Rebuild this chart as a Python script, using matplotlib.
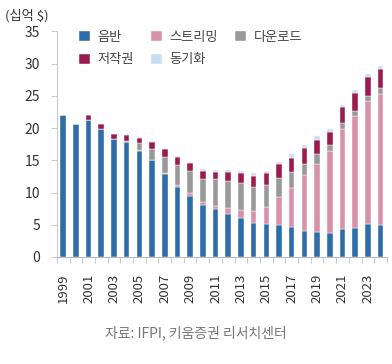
import matplotlib.pyplot as plt
import numpy as np

plt.rcParams['font.family'] = ['Noto Sans CJK KR', 'DejaVu Sans']

# 연도별 음악 매출 (십억 $)
years = list(range(1999, 2025))
physical = [22.0, 20.7, 21.3, 19.9, 18.3, 17.8, 16.5, 15.0, 12.9, 10.8, 9.4, 8.1, 7.4,
            6.65, 6.0, 5.3, 5.1, 4.9, 4.6, 4.1, 3.8, 3.65, 4.3, 4.5, 5.1, 4.9]
streaming = [0, 0, 0, 0, 0, 0.05, 0.15, 0.1, 0.2, 0.3, 0.5, 0.4, 0.5,
             0.95, 1.3, 1.8, 2.65, 4.35, 6.15, 8.6, 10.65, 12.75, 15.6, 17.35, 19.1, 20.4]
download = [0, 0, 0, 0, 0, 0.2, 1.0, 1.7, 2.4, 3.2, 3.4, 3.55, 4.15,
            4.15, 4.1, 3.8, 3.45, 2.95, 2.5, 1.7, 1.5, 0.95, 0.9, 0.85, 0.75, 0.85]
rights = [0, 0, 0.7, 0.7, 0.7, 0.9, 0.8, 1.1, 1.2, 1.2, 1.3, 1.35, 1.2,
          1.5, 1.7, 1.65, 1.9, 2.2, 2.15, 2.5, 2.25, 2.1, 2.4, 2.7, 2.9, 3.05]
sync = [0, 0, 0, 0, 0.05, 0.1, 0.1, 0.1, 0.1, 0.1, 0.1, 0.3, 0.3,
        0.3, 0.3, 0.4, 0.3, 0.3, 0.5, 0.45, 0.5, 0.35, 0.4, 0.5, 0.55, 0.4]

series = [
    ('음반', physical, '#2e6da8'),
    ('스트리밍', streaming, '#d892a8'),
    ('다운로드', download, '#999999'),
    ('저작권', rights, '#9b1b4f'),
    ('동기화', sync, '#c9ddf2'),
]

fig = plt.figure(figsize=(3.92, 3.64), dpi=100)
ax = fig.add_axes([0.145, 0.294, 0.842, 0.62])

x = np.arange(len(years))
bottom = np.zeros(len(years))
handles = {}
for name, vals, color in series:
    b = ax.bar(x, vals, width=0.44, bottom=bottom, color=color,
               edgecolor='white', linewidth=0.3, label=name)
    handles[name] = b
    bottom += np.array(vals)

ax.set_xlim(-0.5, len(years) - 0.5)
ax.set_ylim(0, 35)
ax.set_yticks(range(0, 36, 5))
ax.tick_params(axis='y', labelsize=10, colors='#cccccc', labelcolor='#333333',
               length=4, width=0.8, pad=8)

# 눈금은 막대 사이, 라벨은 홀수 해 막대 아래
ax.set_xticks(np.arange(-0.5, len(years), 1.0))
ax.set_xticklabels([])
ax.tick_params(axis='x', which='major', colors='#cccccc', length=4, width=0.8)
ax.set_xticks(x[::2], minor=True)
ax.set_xticklabels([str(y) for y in years[::2]], minor=True, rotation=90,
                   fontsize=9.5, color='#333333')
ax.tick_params(axis='x', which='minor', length=0, pad=12)

for s in ['top', 'right']:
    ax.spines[s].set_visible(False)
ax.spines['left'].set_color('#cccccc')
ax.spines['bottom'].set_color('#bbbbbb')

# 범례는 열 단위로 채워지므로 순서를 맞춤
order = ['음반', '저작권', '스트리밍', '동기화', '다운로드']
leg = ax.legend([handles[n] for n in order], order, ncol=3, loc='upper left',
                bbox_to_anchor=(0.032, 1.056), frameon=False, fontsize=9.5,
                handlelength=0.8, handleheight=0.8, handletextpad=0.6,
                columnspacing=1.3, labelspacing=0.75)
for t in leg.get_texts():
    t.set_color('#444444')

fig.text(0.013, 0.975, '(십억 $)', fontsize=9.5, color='#333333', va='top')
fig.text(0.5, 0.085, '자료: IFPI, 키움증권 리서치센터', fontsize=10, color='#777777',
         ha='center', va='center')

fig.savefig('out.png', dpi=100)
